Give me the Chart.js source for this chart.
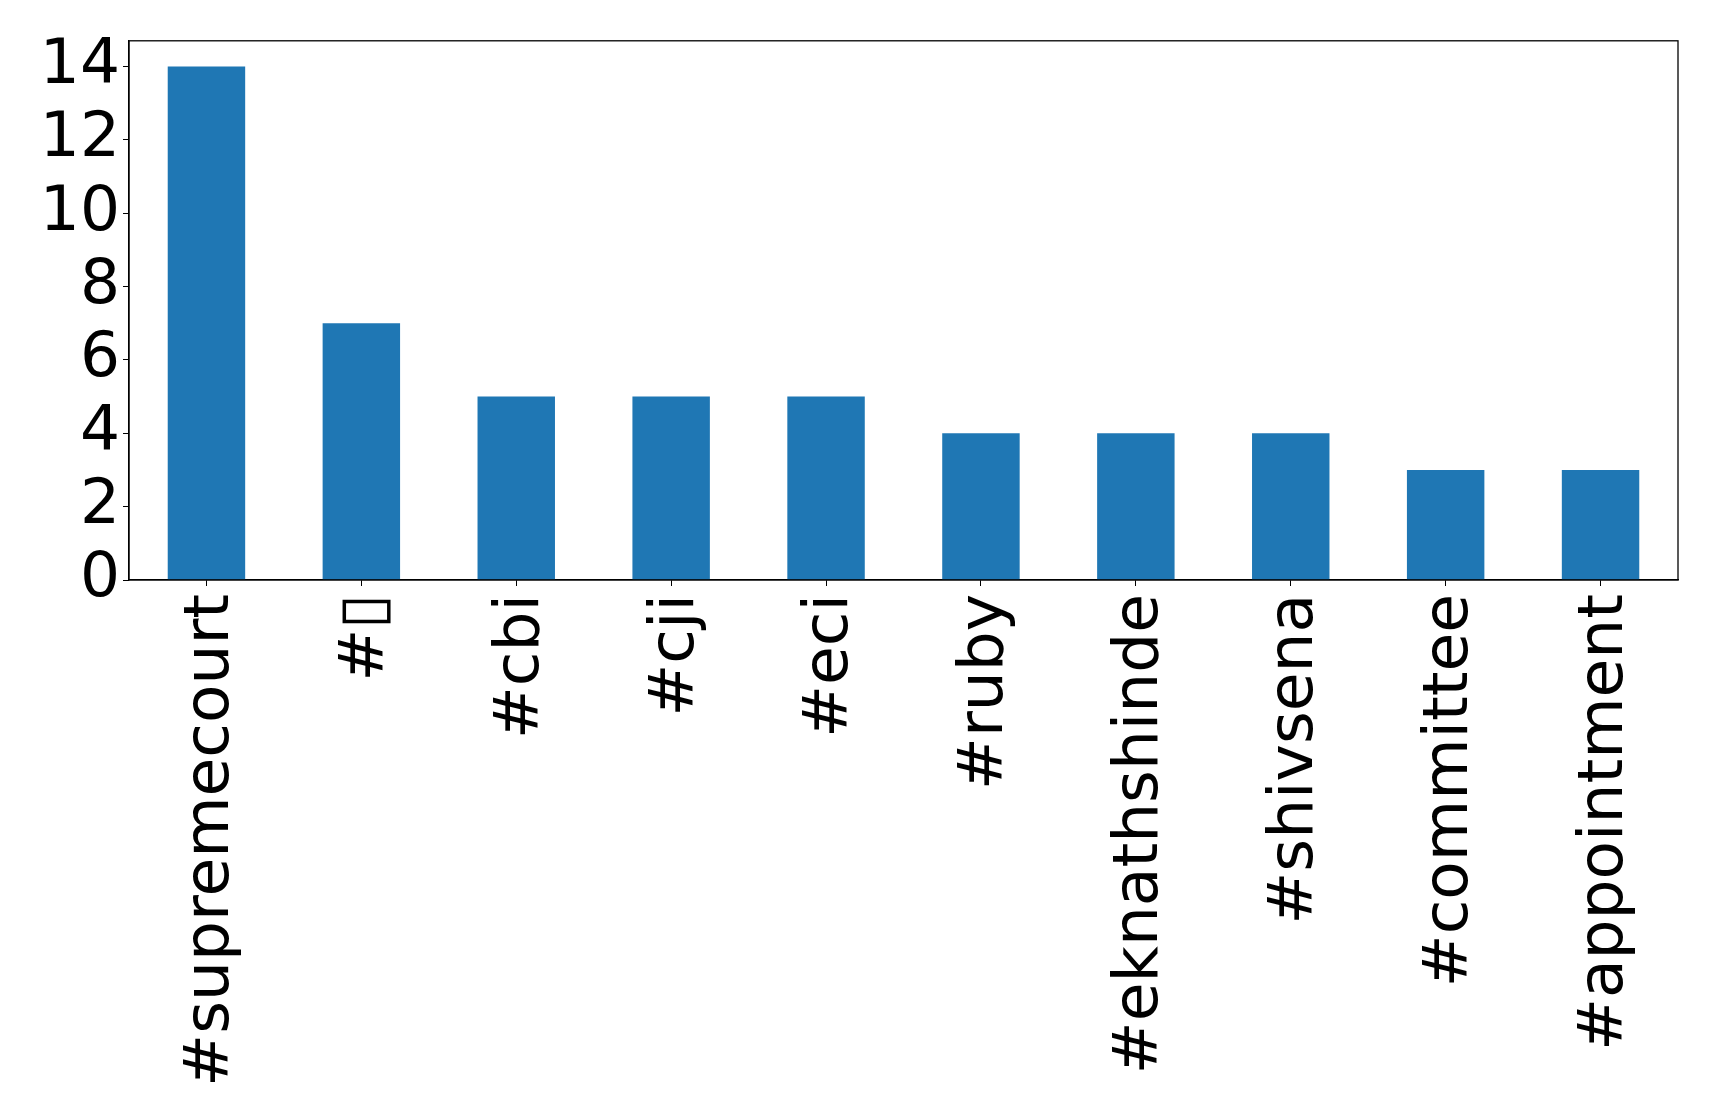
<!DOCTYPE html>
<html>
<head>
<meta charset="utf-8">
<script src="https://cdn.jsdelivr.net/npm/chart.js@4"></script>
<style>
  html, body { margin: 0; padding: 0; background: #fff; }
  #wrap { width: 1719px; height: 1117px; }
</style>
</head>
<body>
<div id="wrap"><canvas id="hashtagChart" width="1719" height="1117"></canvas></div>
<script>
const hashtags = ['#supremecourt', '#▯', '#cbi', '#cji', '#eci', '#ruby', '#eknathshinde', '#shivsena', '#committee', '#appointment'];
const counts = [14, 7, 5, 5, 5, 4, 4, 4, 3, 3];
const yTicks = [0, 2, 4, 6, 8, 10, 12, 14];

// draws the top and right edges of the axes box
const frameBox = {
    id: 'frameBox',
    afterDraw(chart) {
        const { ctx, chartArea } = chart;
        ctx.save();
        ctx.strokeStyle = '#000';
        ctx.lineWidth = 1.3;
        ctx.strokeRect(chartArea.left, chartArea.top, chartArea.right - chartArea.left, chartArea.bottom - chartArea.top);
        ctx.restore();
    }
};

const ctx = document.getElementById('hashtagChart').getContext('2d');
new Chart(ctx, {
    type: 'bar',
    data: {
        labels: hashtags,
        datasets: [{
            data: counts,
            backgroundColor: '#1f77b4',
            barPercentage: 0.5,
            categoryPercentage: 1.0
        }]
    },
    options: {
        responsive: false,
        animation: false,
        layout: { padding: { top: 39, right: 41, bottom: 0, left: 0 } },
        plugins: {
            legend: { display: false },
            tooltip: { enabled: false }
        },
        scales: {
            x: {
                offset: true,
                grid: { offset: false, drawOnChartArea: false, drawTicks: true, tickLength: 6, color: '#000' },
                border: { color: '#000', width: 1.3 },
                ticks: {
                    autoSkip: false,
                    maxRotation: 90,
                    minRotation: 90,
                    padding: 8,
                    labelOffset: 5,
                    color: '#000',
                    font: { family: 'DejaVu Sans', size: 63 }
                },
                afterFit(scale) { scale.height = 537; }
            },
            y: {
                min: 0,
                max: 14.7,
                grid: { drawOnChartArea: false, drawTicks: true, tickLength: 6, color: '#000' },
                border: { color: '#000', width: 1.3 },
                afterBuildTicks(scale) {
                    scale.ticks = yTicks.map(v => ({ value: v }));
                },
                ticks: {
                    autoSkip: false,
                    padding: 3,
                    color: '#000',
                    font: { family: 'DejaVu Sans', size: 63 }
                },
                afterFit(scale) { scale.width = 129; }
            }
        }
    },
    plugins: [frameBox]
});
</script>
</body>
</html>
